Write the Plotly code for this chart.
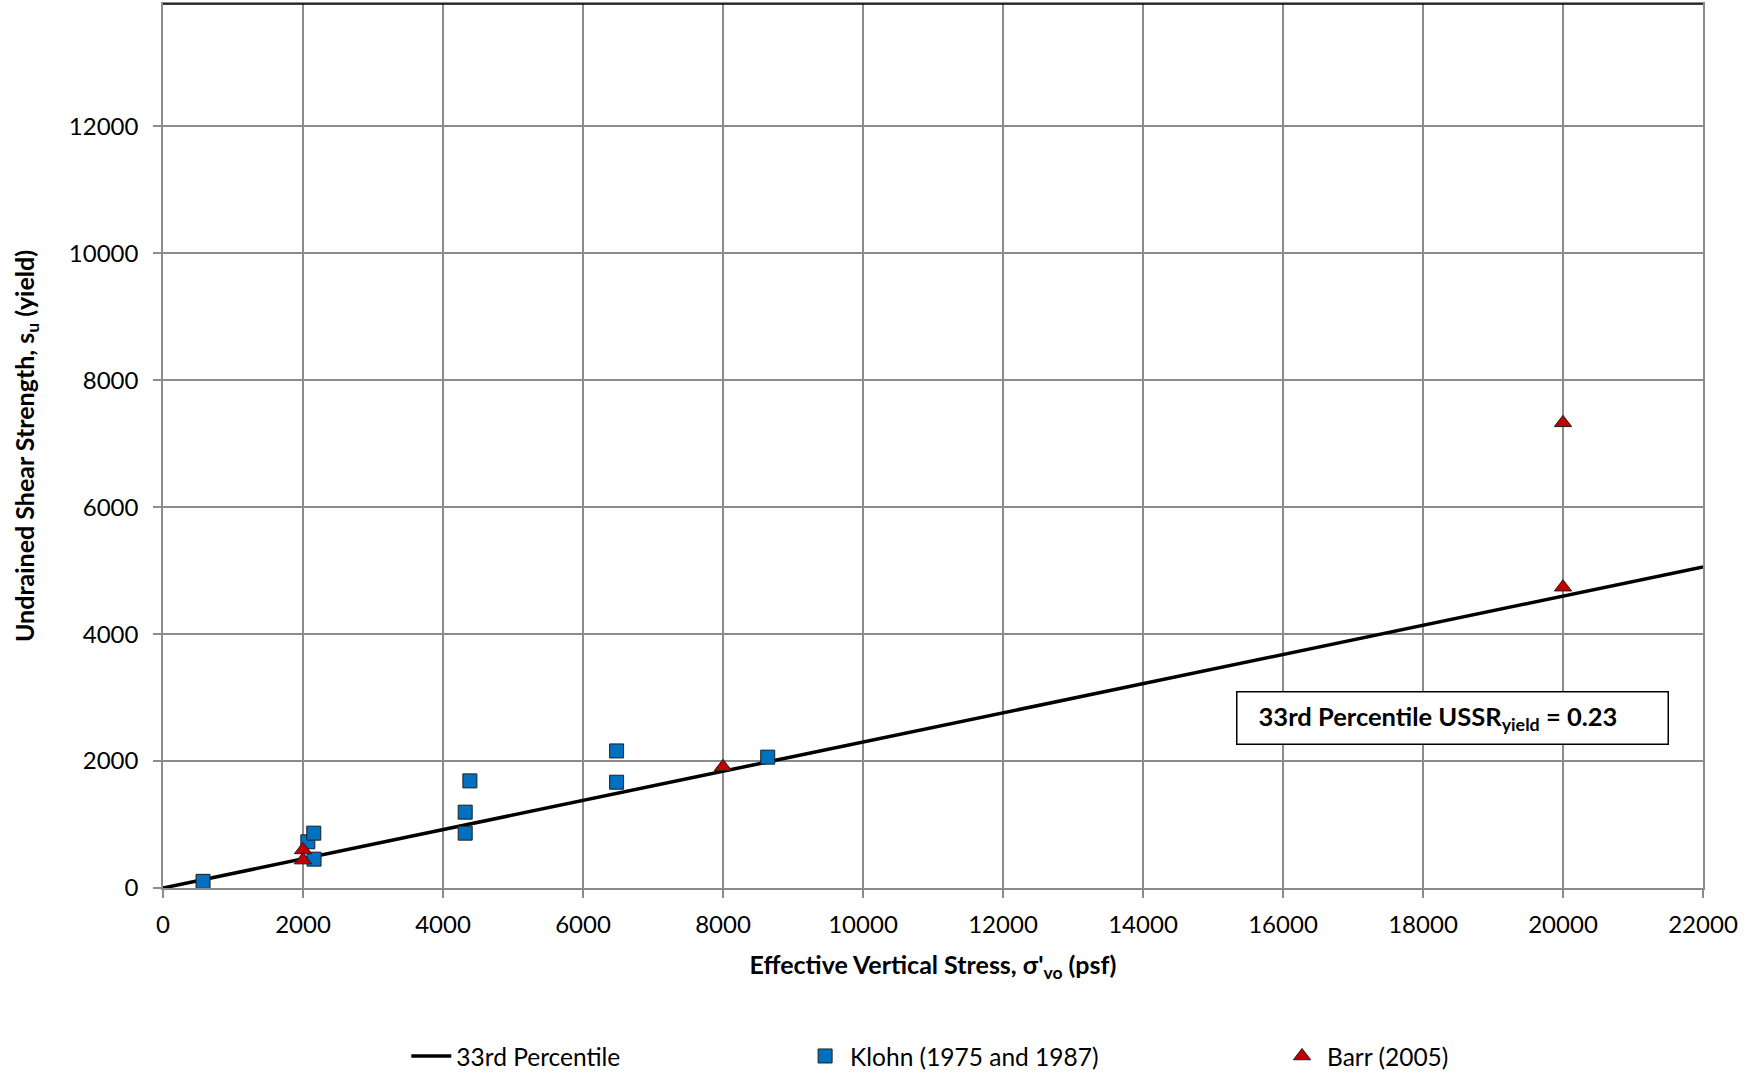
import plotly.graph_objects as go

# Klohn (1975 and 1987) measurements
klohn_stress = [572, 2069, 2154, 2158, 4384, 4317, 4317, 6480, 6480, 8639]
klohn_su = [105, 728, 864, 455, 1688, 1195, 864, 2160, 1667, 2062]

# Barr (2005) measurements
barr_stress = [2000, 2000, 8000, 20000, 20000]
barr_su = [600, 440, 1910, 7330, 4740]

# 33rd percentile trend, USSR_yield = 0.23
ussr_33 = 0.23
line_stress = [0, 22000]
line_su = [s * ussr_33 for s in line_stress]

x_ticks = list(range(0, 22001, 2000))
y_ticks = list(range(0, 12001, 2000))

FONT = "Lato"
GRID = "#8c8c8c"

fig = go.Figure()

fig.add_trace(go.Scatter(
    x=line_stress, y=line_su, mode="lines", name="33rd Percentile",
    line=dict(color="black", width=3.5), legend="legend",
))
fig.add_trace(go.Scatter(
    x=klohn_stress, y=klohn_su, mode="markers", name="Klohn (1975 and 1987)",
    marker=dict(symbol="square", size=14, color="#0070C0",
                line=dict(color="#1f1f1f", width=1)),
    legend="legend2",
))
fig.add_trace(go.Scatter(
    x=barr_stress, y=barr_su, mode="markers", name="Barr (2005)",
    marker=dict(symbol="triangle-up", size=15, color="#C00000",
                line=dict(color="#1f1f1f", width=1)),
    legend="legend3",
))

fig.add_annotation(
    x=18421, y=2679, xref="x", yref="y",
    text="&nbsp;&nbsp;<b>33rd Percentile USSR<sub>yield</sub> = 0.23</b>",
    showarrow=False, align="left",
    width=414, height=35, borderpad=8,
    bordercolor="black", borderwidth=1.5, bgcolor="white",
    font=dict(family=FONT, size=25.5, color="black"),
)

# Top border of the plot area
fig.add_shape(type="line", xref="paper", yref="paper", x0=0, x1=1, y0=1, y1=1,
              line=dict(color="black", width=1.5))

legend_common = dict(
    orientation="h", yref="container", yanchor="middle", y=0.0158,
    xanchor="left",
    font=dict(family=FONT, size=24.5, color="black"),
    bgcolor="rgba(0,0,0,0)", itemwidth=40,
)

fig.update_layout(
    width=1754, height=1073,
    margin=dict(l=163, r=51, t=4, b=185, autoexpand=False),
    paper_bgcolor="white", plot_bgcolor="white",
    font=dict(family=FONT, size=24, color="black"),
    showlegend=True,
    legend=dict(legend_common, x=0.158),
    legend2=dict(legend_common, x=0.4137),
    legend3=dict(legend_common, x=0.7234),
    xaxis=dict(
        range=[0, 22000], tickvals=x_ticks, ticktext=[str(v) for v in x_ticks],
        showgrid=True, gridcolor=GRID, gridwidth=1.5,
        showline=True, linecolor=GRID, linewidth=1.5, mirror=True,
        ticks="outside", ticklen=8, tickcolor=GRID, tickwidth=1.5,
        ticklabelstandoff=6, automargin=False,
        zeroline=False, tickfont=dict(family=FONT, size=24),
        title=dict(text="<b>Effective Vertical Stress, σ'<sub>vo</sub> (psf)</b>",
                   font=dict(family=FONT, size=25), standoff=20),
    ),
    yaxis=dict(
        range=[0, 13930], tickvals=y_ticks, ticktext=[str(v) for v in y_ticks],
        showgrid=True, gridcolor=GRID, gridwidth=1.5,
        showline=True, linecolor=GRID, linewidth=1.5, mirror=True,
        ticks="outside", ticklen=8, tickcolor=GRID, tickwidth=1.5,
        ticklabelstandoff=10, automargin=False,
        zeroline=False, tickfont=dict(family=FONT, size=24),
        title=dict(text="<b>Undrained Shear Strength, s<sub>u</sub> (yield)</b>",
                   font=dict(family=FONT, size=25), standoff=27),
    ),
)

fig.write_html("out.html")
